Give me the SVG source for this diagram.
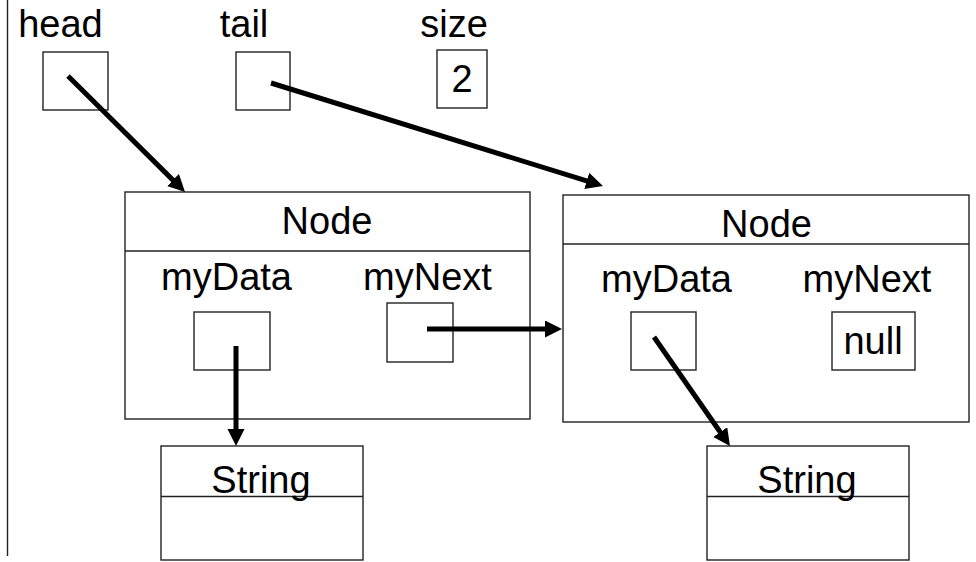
<svg xmlns="http://www.w3.org/2000/svg" width="976" height="562" viewBox="0 0 976 562">
<style>
.box{fill:#fff;stroke:#222;stroke-width:1.4}
.ln{stroke:#222;stroke-width:1.4;fill:none}
.t{font-family:"Liberation Sans",Arial,sans-serif;font-size:38px;fill:#000;text-anchor:middle}
.arr{stroke:#000;stroke-width:5;fill:none;marker-end:url(#ah)}
</style>
<defs>
<marker id="ah" markerUnits="userSpaceOnUse" markerWidth="20" markerHeight="20" refX="5" refY="8.5" orient="auto">
<path d="M0,0 L17,8.5 L0,17 z" fill="#000"/>
</marker>
</defs>
<rect width="976" height="562" fill="#fff"/>
<line class="ln" x1="7.5" y1="0" x2="7.5" y2="556"/>
<g id="head">
<text class="t" x="60.5" y="37">head</text>
<rect class="box" x="43" y="52" width="65" height="58"/>
</g>
<g id="tail">
<text class="t" x="244" y="37">tail</text>
<rect class="box" x="236" y="52" width="54" height="58"/>
</g>
<g id="size">
<text class="t" x="454" y="37">size</text>
<rect class="box" x="437" y="50" width="50" height="58"/>
<text class="t" x="462" y="92">2</text>
</g>
<g id="node1">
<rect class="box" x="125" y="192" width="405" height="227"/>
<line class="ln" x1="125" y1="251" x2="530" y2="251"/>
<text class="t" x="327" y="234">Node</text>
<text class="t" x="226.5" y="290">myData</text>
<text class="t" x="427.5" y="290">myNext</text>
<rect class="box" x="194" y="312" width="76" height="58"/>
<rect class="box" x="387" y="303" width="66" height="59"/>
</g>
<g id="node2">
<rect class="box" x="563" y="195" width="406" height="227"/>
<line class="ln" x1="563" y1="244" x2="969" y2="244"/>
<text class="t" x="766.5" y="237">Node</text>
<text class="t" x="666.5" y="292">myData</text>
<text class="t" x="867" y="292">myNext</text>
<rect class="box" x="631" y="312" width="65" height="58"/>
<rect class="box" x="832" y="312" width="83" height="58"/>
<text class="t" x="873" y="354">null</text>
</g>
<g id="string1">
<rect class="box" x="161" y="446" width="202" height="114"/>
<line class="ln" x1="161" y1="496.5" x2="363" y2="496.5"/>
<text class="t" x="261" y="493">String</text>
</g>
<g id="string2">
<rect class="box" x="707" y="446" width="202" height="114"/>
<line class="ln" x1="707" y1="496.5" x2="909" y2="496.5"/>
<text class="t" x="807" y="493">String</text>
</g>
<g id="connectors">
<line class="arr" x1="68" y1="76" x2="176.5" y2="183.6"/>
<line class="arr" x1="271" y1="83" x2="591.5" y2="182.4"/>
<line class="arr" x1="427" y1="329" x2="550" y2="329"/>
<line class="arr" x1="236" y1="346" x2="236" y2="434"/>
<line class="arr" x1="654" y1="337" x2="723.1" y2="436.2"/>
</g>
</svg>
